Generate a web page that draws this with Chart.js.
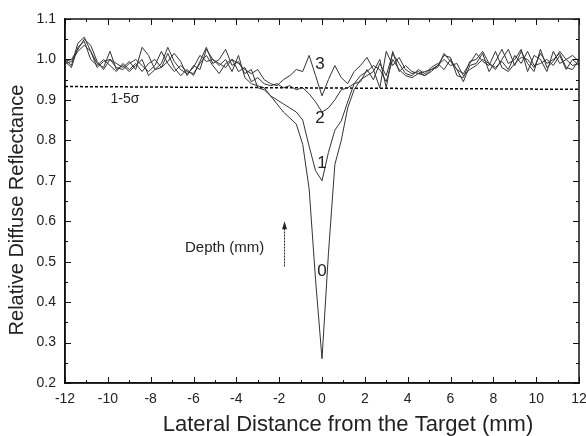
<!DOCTYPE html>
<html>
<head>
<meta charset="utf-8">
<script src="https://cdn.jsdelivr.net/npm/chart.js@4"></script>
<style>
  html, body { margin: 0; padding: 0; background: #fff; }
  #wrap { width: 586px; height: 436px; }
</style>
</head>
<body>
<div id="wrap"><canvas id="reflChart" width="586" height="436"></canvas></div>
<script>
// lateral positions (mm)
const xs = [
  -12, -11.7, -11.4, -11.1, -10.8, -10.5, -10.2, -9.9, -9.6, -9.3,
  -9.0, -8.7, -8.4, -8.1, -7.8, -7.5, -7.2, -6.9, -6.6, -6.3,
  -6.0, -5.7, -5.4, -5.1, -4.8, -4.5, -4.2, -3.9, -3.6, -3.3,
  -3.0, -2.7, -2.4, -2.1, -1.8, -1.5, -1.2, -0.9, -0.6, -0.3,
  0, 0.3, 0.6, 0.9, 1.2, 1.5, 1.8, 2.1, 2.4, 2.7,
  3.0, 3.3, 3.6, 3.9, 4.2, 4.5, 4.8, 5.1, 5.4, 5.7,
  6.0, 6.3, 6.6, 6.9, 7.2, 7.5, 7.8, 8.1, 8.4, 8.7,
  9.0, 9.3, 9.6, 9.9, 10.2, 10.5, 10.8, 11.1, 11.4, 11.7,
  12
];

// relative diffuse reflectance for each target depth
const depth0 = [
  1.00, 0.985, 1.04, 1.055, 1.02, 0.99, 0.98, 1.02, 0.975, 0.985,
  0.97, 0.985, 1.0, 0.96, 0.975, 0.99, 1.03, 0.995, 0.975, 0.965,
  0.98, 1.01, 0.995, 1.0, 0.985, 1.0, 0.97, 1.01, 0.955, 0.94,
  0.935, 0.93, 0.91, 0.89, 0.87, 0.855, 0.84, 0.79, 0.68, 0.455,
  0.26, 0.52, 0.74, 0.80, 0.88, 0.925, 0.95, 0.96, 0.97, 1.0,
  0.93, 1.02, 0.97, 0.985, 0.97, 0.965, 0.97, 0.975, 0.985, 1.01,
  1.005, 0.96, 0.955, 0.995, 1.0, 1.02, 0.99, 0.975, 1.0, 1.025,
  0.985, 1.02, 0.99, 0.97, 1.025, 0.98, 0.995, 1.02, 1.0, 0.985,
  0.99
];
const depth1 = [
  0.995, 0.98, 1.03, 1.045, 1.0, 0.985, 1.0, 0.985, 0.97, 0.99,
  0.975, 0.99, 0.97, 0.99, 1.0, 0.98, 1.015, 0.98, 0.96, 0.975,
  0.96, 0.995, 1.03, 0.99, 1.0, 1.025, 0.985, 0.995, 0.965, 0.975,
  0.93, 0.925, 0.91, 0.9, 0.89, 0.88, 0.87, 0.85, 0.785, 0.725,
  0.70, 0.77, 0.825, 0.848, 0.895, 0.94, 0.945, 0.975, 0.95, 0.99,
  0.96, 1.015, 0.99, 0.965, 0.96, 0.975, 0.965, 0.98, 0.99, 0.975,
  1.0, 0.975, 0.945, 0.985, 0.99, 1.015, 0.97, 0.995, 1.025, 0.99,
  1.0, 1.025, 0.97, 1.01, 1.0, 0.97, 1.02, 0.99, 1.0, 1.01,
  0.995
];
const depth2 = [
  0.99, 0.995, 1.02, 1.035, 1.02, 0.98, 0.995, 1.0, 0.98, 0.975,
  0.99, 1.0, 0.985, 0.97, 0.985, 1.02, 0.99, 0.97, 0.985, 0.97,
  0.965, 0.99, 1.01, 0.985, 0.965, 0.99, 1.0, 0.97, 0.98, 0.945,
  0.955, 0.94, 0.935, 0.94, 0.93, 0.935, 0.925, 0.93, 0.915, 0.895,
  0.87, 0.88, 0.90, 0.925, 0.93, 0.94, 0.96, 0.97, 0.985, 0.975,
  0.945, 1.0, 0.975, 0.96, 0.955, 0.965, 0.96, 0.97, 0.985, 1.0,
  0.985, 0.99, 0.96, 0.975, 0.985, 1.0, 0.99, 0.98, 0.995, 0.975,
  1.01, 0.99, 1.02, 0.985, 0.99, 1.0, 0.985, 1.01, 0.975, 1.0,
  0.985
];
const depth3 = [
  0.995, 1.0, 1.025, 1.05, 1.035, 0.995, 0.975, 1.0, 0.99, 0.98,
  0.995, 0.975, 1.03, 1.01, 0.975, 0.98, 0.995, 1.015, 0.995, 0.96,
  0.985, 0.975, 1.025, 1.0, 0.99, 0.98, 1.0, 0.99, 0.975, 0.965,
  0.975, 0.95, 0.94, 0.935, 0.95, 0.96, 0.975, 0.97, 1.01, 0.96,
  0.91, 0.95, 0.985, 0.955, 0.94, 0.97, 0.985, 1.005, 0.975, 0.93,
  1.02, 0.985, 1.005, 0.975, 0.965, 0.97, 0.96, 0.975, 0.98, 1.015,
  0.995, 0.975, 0.965, 0.99, 1.015, 0.995, 0.985, 1.02, 0.98, 0.97,
  0.99, 1.005, 1.0, 0.98, 1.015, 0.99, 1.0, 1.015, 0.98, 0.975,
  1.0
];

// 1-5 sigma threshold
const limitX = [-12, 12];
const limitY = [0.933, 0.926];

// curve labels: [text, x, y]
const curveLabels = [
  ['3', -0.1, 0.987],
  ['2', -0.1, 0.855],
  ['1', 0, 0.743],
  ['0', 0, 0.475]
];

const xTitle = 'Lateral Distance from the Target (mm)';
const yTitle = 'Relative Diffuse Reflectance';

const FONT = 'Liberation Sans, Arial, sans-serif';

function pairs(xv, yv) {
  return xv.map((x, i) => ({ x: x, y: yv[i] }));
}

function curve(values) {
  return {
    data: pairs(xs, values),
    borderColor: '#333',
    borderWidth: 1,
    pointRadius: 0,
    tension: 0,
    fill: false
  };
}

// one path per segment (multi-subpath strokes didn't show up here)
function seg(ctx, x1, y1, x2, y2, w) {
  ctx.lineWidth = w;
  ctx.beginPath();
  ctx.moveTo(x1, y1);
  ctx.lineTo(x2, y2);
  ctx.stroke();
}

// frame with inward ticks on all four sides, and the annotations
const framePlugin = {
  id: 'frameTicks',
  afterDraw(chart) {
    const ctx = chart.ctx;
    const x = chart.scales.x;
    const y = chart.scales.y;
    const L = Math.round(x.getPixelForValue(-12));
    const R = Math.round(x.getPixelForValue(12));
    const T = Math.round(y.getPixelForValue(1.1));
    const B = Math.round(y.getPixelForValue(0.2));
    ctx.save();
    ctx.setLineDash([]);
    ctx.strokeStyle = '#111';
    ctx.lineCap = 'square';

    seg(ctx, L, T, R, T, 1.5);
    seg(ctx, R, T, R, B, 1.5);
    seg(ctx, R, B, L, B, 1.5);
    seg(ctx, L, B, L, T, 1.5);

    ctx.lineCap = 'butt';
    for (let v = -12; v <= 12; v++) {
      const px = Math.round(x.getPixelForValue(v)) + 0.5;
      const len = v % 2 === 0 ? 6 : 3;
      seg(ctx, px, B, px, B - len, 1);
      seg(ctx, px, T, px, T + len, 1);
    }
    for (let i = 0; i <= 18; i++) {
      const py = Math.round(y.getPixelForValue(0.2 + i * 0.05)) + 0.5;
      const len = i % 2 === 0 ? 6 : 3;
      seg(ctx, L, py, L + len, py, 1);
      seg(ctx, R, py, R - len, py, 1);
    }

    ctx.fillStyle = '#222';
    ctx.textAlign = 'center';
    ctx.textBaseline = 'middle';
    ctx.font = '17px ' + FONT;
    curveLabels.forEach(([t, vx, vy]) => {
      ctx.fillText(t, x.getPixelForValue(vx), y.getPixelForValue(vy));
    });
    ctx.font = '14px ' + FONT;
    ctx.fillText('1-5\u03c3', x.getPixelForValue(-9.2), y.getPixelForValue(0.902));
    ctx.font = '15px ' + FONT;
    ctx.fillText('Depth (mm)', x.getPixelForValue(-4.55), y.getPixelForValue(0.533));

    // axis titles
    ctx.font = '22px ' + FONT;
    ctx.fillText(xTitle, 348, 425);
    ctx.save();
    ctx.translate(17, 210);
    ctx.rotate(-Math.PI / 2);
    ctx.font = '20px ' + FONT;
    ctx.fillText(yTitle, 0, 0);
    ctx.restore();

    // arrow
    const ax = x.getPixelForValue(-1.75);
    const y0 = y.getPixelForValue(0.488);
    const y1 = y.getPixelForValue(0.60);
    ctx.strokeStyle = '#222';
    ctx.setLineDash([2, 1]);
    seg(ctx, ax, y0, ax, y1 + 5, 1);
    ctx.setLineDash([]);
    ctx.beginPath();
    ctx.moveTo(ax, y1); ctx.lineTo(ax - 2.5, y1 + 8); ctx.lineTo(ax + 2.5, y1 + 8);
    ctx.closePath();
    ctx.fill();
    ctx.restore();
  }
};

new Chart(document.getElementById('reflChart'), {
  type: 'line',
  data: {
    datasets: [
      curve(depth0),
      curve(depth1),
      curve(depth2),
      curve(depth3),
      {
        data: pairs(limitX, limitY),
        borderColor: '#000',
        borderWidth: 1.5,
        borderDash: [3, 2],
        pointRadius: 0,
        fill: false
      }
    ]
  },
  options: {
    responsive: false,
    animation: false,
    layout: { padding: { top: 19, right: 7, left: 0, bottom: 0 } },
    plugins: {
      legend: { display: false },
      tooltip: { enabled: false }
    },
    scales: {
      x: {
        type: 'linear',
        min: -12,
        max: 12,
        afterFit(scale) {
          scale.height = 53;
          scale.paddingLeft = 0;
          scale.paddingRight = 0;
        },
        grid: { display: false, drawTicks: false },
        border: { display: true, color: '#111', width: 1.5 },
        ticks: {
          stepSize: 2,
          padding: 8,
          color: '#222',
          font: { family: FONT, size: 14 }
        },
        title: { display: false }
      },
      y: {
        type: 'linear',
        min: 0.2,
        max: 1.1,
        afterFit(scale) { scale.width = 65; },
        grid: { display: false, drawTicks: false },
        border: { display: true, color: '#111', width: 1.5 },
        ticks: {
          stepSize: 0.1,
          padding: 9,
          color: '#222',
          font: { family: FONT, size: 14 },
          callback: v => Number(v).toFixed(1)
        },
        title: { display: false }
      }
    }
  },
  plugins: [framePlugin]
});
</script>
</body>
</html>
